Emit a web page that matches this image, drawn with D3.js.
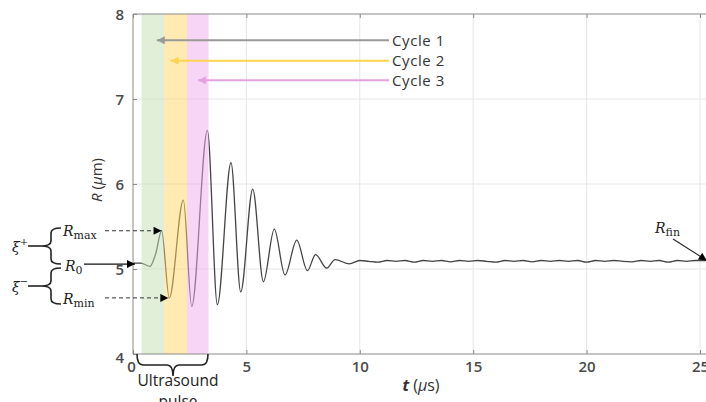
<!DOCTYPE html>
<html>
<head>
<meta charset="utf-8">
<script src="https://cdn.jsdelivr.net/npm/d3@7"></script>
<style>
  html, body { margin: 0; padding: 0; background: #fff; }
  svg { display: block; }
</style>
</head>
<body>
<svg id="chart" width="706" height="402"></svg>
<script>
// ---------------- data ----------------
const timeUs = [0, 0.35, 0.75, 1.0, 1.26, 1.6, 2.22, 2.59, 3.28, 3.72, 4.32, 4.75, 5.28, 5.75, 6.23, 6.70, 7.22, 7.69, 8.05, 8.54, 8.91, 9.54,
  10.0, 10.4, 10.8, 11.2, 11.6, 12.0, 12.4, 12.8, 13.2, 13.6, 14.0, 14.4, 14.8, 15.2, 15.6, 16.0, 16.4, 16.8, 17.2, 17.6, 18.0, 18.4, 18.8,
  19.2, 19.6, 20.0, 20.4, 20.8, 21.2, 21.6, 22.0, 22.4, 22.8, 23.2, 23.6, 24.0, 24.4, 24.8, 25.2, 25.5];
const radiusUm = [5.07, 5.07, 5.03, 5.18, 5.45, 4.66, 5.81, 4.56, 6.63, 4.58, 6.25, 4.73, 5.94, 4.85, 5.47, 4.93, 5.34, 4.98, 5.17, 5.01, 5.11, 5.06,
  5.10, 5.09, 5.08, 5.10, 5.09, 5.10, 5.08, 5.10, 5.09, 5.10, 5.085, 5.10, 5.09, 5.10, 5.09, 5.08, 5.10, 5.09, 5.10, 5.085, 5.10, 5.09, 5.10,
  5.09, 5.10, 5.08, 5.10, 5.09, 5.10, 5.09, 5.085, 5.10, 5.09, 5.10, 5.08, 5.10, 5.09, 5.10, 5.10, 5.10];

const cycleNames = ["Cycle 1", "Cycle 2", "Cycle 3"];
const cycleStart = [0.38, 1.38, 2.38];
const cycleEnd = [1.38, 2.38, 3.33];
const cycleArrowTip = [1.05, 1.66, 2.87]; // t where each label arrow ends
const cycleArrowR = [7.69, 7.45, 7.22];

const xTicks = [0, 5, 10, 15, 20, 25];
const yTicks = [4, 5, 6, 7, 8];

const R0 = 5.07, Rmax = 5.45, Rmin = 4.66, Rfin = 5.10;
const tRmax = 1.26, tRmin = 1.6, tFin = 25.3;

// ---------------- layout ----------------
const svg = d3.select("#chart");
const L = 133, T = 14, B = 354;
const x = d3.scaleLinear().domain([0, 25]).range([L, 700]);
const y = d3.scaleLinear().domain([4, 8]).range([B, T]);
const W = 706;

const bandFill = ["rgb(196,224,178)", "rgb(255,213,100)", "rgb(238,172,238)"];
const arrowCol = ["#9a9a9a", "#ffd34e", "#e2a2e0"];

// grid
const g = svg.append("g");
g.selectAll("line.vg").data(xTicks.filter(d => d > 0)).join("line")
  .attr("x1", d => x(d)).attr("x2", d => x(d)).attr("y1", T).attr("y2", B)
  .attr("stroke", "#e6e6e6").attr("stroke-width", 1);
g.selectAll("line.hg").data(yTicks.filter(d => d > 4 && d < 8)).join("line")
  .attr("x1", L).attr("x2", W).attr("y1", d => y(d)).attr("y2", d => y(d))
  .attr("stroke", "#e6e6e6").attr("stroke-width", 1);

// signal line
const line = d3.line().x((d, i) => x(timeUs[i])).y(d => y(d)).curve(d3.curveMonotoneX);
svg.append("path").attr("d", line(radiusUm))
  .attr("fill", "none").attr("stroke", "#444").attr("stroke-width", 1.3);

// colored bands (over line, translucent)
svg.selectAll("rect.band").data(cycleStart).join("rect")
  .attr("x", (d) => x(d)).attr("width", (d, i) => x(cycleEnd[i]) - x(d))
  .attr("y", T).attr("height", B - T)
  .attr("fill", (d, i) => bandFill[i]).attr("opacity", 0.5);

// axes
const axisCol = "#8a8a8a";
svg.append("line").attr("x1", L).attr("x2", L).attr("y1", T).attr("y2", B).attr("stroke", axisCol);
svg.append("line").attr("x1", L).attr("x2", W).attr("y1", B).attr("y2", B).attr("stroke", axisCol);
svg.append("line").attr("x1", L).attr("x2", W).attr("y1", T).attr("y2", T).attr("stroke", axisCol);

const xAxis = d3.axisBottom(x).tickValues(xTicks).tickSize(-4).tickPadding(10).tickFormat(d3.format("d"));
const xa = svg.append("g").attr("transform", `translate(0,${B})`).call(xAxis);
xa.select(".domain").remove();
const xaTop = svg.append("g").attr("transform", `translate(0,${T})`).call(d3.axisTop(x).tickValues(xTicks).tickSize(-4).tickFormat(""));
xaTop.select(".domain").remove();
const yAxis = d3.axisLeft(y).tickValues(yTicks).tickSize(-4).tickPadding(9).tickFormat(d3.format("d"));
const ya = svg.append("g").attr("transform", `translate(${L},0)`).call(yAxis);
ya.select(".domain").remove();
svg.selectAll(".tick line").attr("stroke", axisCol);
svg.selectAll(".tick text").attr("fill", "#4a4a4a").style("font-family", "'Open Sans', sans-serif").style("font-size", "15px").style("font-weight", "600");
xa.selectAll(".tick text").attr("dy", "0.55em").attr("dx", d => d === 0 ? -2 : 0);
ya.selectAll(".tick text").attr("dy", d => d === 4 ? "0.55em" : "0.35em");

// axis labels
const lab = svg.append("text").attr("transform", "translate(102,180) rotate(-90)")
  .attr("text-anchor", "middle").attr("fill", "#333")
  .style("font-family", "'Open Sans', sans-serif").style("font-size", "15px");
lab.append("tspan").text("R").style("font-style", "italic");
lab.append("tspan").text(" (");
lab.append("tspan").text("μ").style("font-style", "italic");
lab.append("tspan").text("m)");
const xl = svg.append("text").attr("x", 421).attr("y", 391).attr("text-anchor", "middle").attr("fill", "#333")
  .style("font-family", "'Open Sans', sans-serif").style("font-size", "16px");
xl.append("tspan").text("t").style("font-style", "italic").style("font-weight", "bold");
xl.append("tspan").text(" (");
xl.append("tspan").text("μ").style("font-style", "italic");
xl.append("tspan").text("s)");

// arrow markers
const defs = svg.append("defs");
function marker(id, col, w, h) {
  defs.append("marker").attr("id", id).attr("viewBox", "0 0 10 10").attr("refX", 10).attr("refY", 5)
    .attr("markerWidth", w).attr("markerHeight", h).attr("markerUnits", "userSpaceOnUse").attr("orient", "auto")
    .append("path").attr("d", "M0,0 L10,5 L0,10 Z").attr("fill", col);
}
arrowCol.forEach((c, i) => marker("m" + i, c, 11, 8));
marker("mk", "#000", 11, 8);

// cycle arrows + labels
cycleNames.forEach((name, i) => {
  const yy = y(cycleArrowR[i]);
  svg.append("line").attr("x1", 389).attr("x2", x(cycleArrowTip[i])).attr("y1", yy).attr("y2", yy)
    .attr("stroke", arrowCol[i]).attr("stroke-width", 2).attr("marker-end", `url(#m${i})`);
  svg.append("text").attr("x", 392).attr("y", yy).attr("dy", "0.35em").text(name)
    .attr("fill", "#333").style("font-family", "'Open Sans', sans-serif").style("font-size", "15px")
    .style("letter-spacing", "0.6px");
});

// left annotations
const serif = "'DejaVu Serif', 'Liberation Serif', serif";
function rLabel(xp, yp, sub) {
  const t = svg.append("text").attr("x", xp).attr("y", yp).attr("fill", "#222").style("font-family", serif);
  t.append("tspan").text("R").style("font-style", "italic").style("font-size", "14px");
  t.append("tspan").text(sub).attr("dy", 3).style("font-size", "11px");
}
rLabel(63, y(Rmax) + 5, "max");
rLabel(65, y(R0) + 8, "0");
rLabel(63, y(Rmin) + 6, "min");

svg.append("line").attr("x1", 105).attr("x2", x(tRmax)).attr("y1", y(Rmax)).attr("y2", y(Rmax))
  .attr("stroke", "#333").attr("stroke-dasharray", "4,3").attr("marker-end", "url(#mk)");
svg.append("line").attr("x1", 105).attr("x2", x(tRmin) - 1).attr("y1", y(Rmin)).attr("y2", y(Rmin))
  .attr("stroke", "#333").attr("stroke-dasharray", "4,3").attr("marker-end", "url(#mk)");
svg.append("line").attr("x1", 84).attr("x2", L + 2).attr("y1", y(R0) + 1).attr("y2", y(R0) + 1)
  .attr("stroke", "#111").attr("stroke-width", 1.2).attr("marker-end", "url(#mk)");

// braces
function vBrace(xr, y0, y1, w) {
  const ym = (y0 + y1) / 2, xm = xr - w / 2, xl = xr - w, r = 5;
  return `M${xr},${y0} Q${xm},${y0} ${xm},${y0 + r} L${xm},${ym - r} Q${xm},${ym} ${xl},${ym} Q${xm},${ym} ${xm},${ym + r} L${xm},${y1 - r} Q${xm},${y1} ${xr},${y1}`;
}
function hBrace(x0, x1, yt, h, xm) {
  const ym = yt + h / 2, yb = yt + h, r = 6;
  return `M${x0},${yt} Q${x0},${ym} ${x0 + r},${ym} L${xm - r},${ym} Q${xm},${ym} ${xm},${yb} Q${xm},${ym} ${xm + r},${ym} L${x1 - r},${ym} Q${x1},${ym} ${x1},${yt}`;
}
svg.append("path").attr("d", vBrace(61, 228, 264, 20)).attr("fill", "none").attr("stroke", "#222").attr("stroke-width", 1.6);
svg.append("path").attr("d", vBrace(61, 268, 304, 20)).attr("fill", "none").attr("stroke", "#222").attr("stroke-width", 1.6);
svg.append("line").attr("x1", 28).attr("x2", 41).attr("y1", 246).attr("y2", 246).attr("stroke", "#222").attr("stroke-width", 1.6);
svg.append("line").attr("x1", 28).attr("x2", 41).attr("y1", 286).attr("y2", 286).attr("stroke", "#222").attr("stroke-width", 1.6);
function xiLabel(yp, sup) {
  const t = svg.append("text").attr("x", 12).attr("y", yp).attr("fill", "#222").style("font-family", serif);
  t.append("tspan").text("ξ").style("font-style", "italic").style("font-size", "14px");
  t.append("tspan").text(sup).attr("dy", -7).style("font-size", "10px");
}
xiLabel(252, "+");
xiLabel(292, "−");

svg.append("path").attr("d", hBrace(137, 208, 354, 22, 173)).attr("fill", "none").attr("stroke", "#222").attr("stroke-width", 1.6);
svg.append("text").attr("x", 178).attr("y", 386).attr("text-anchor", "middle").text("Ultrasound")
  .attr("fill", "#222").style("font-family", "'Open Sans', sans-serif").style("font-size", "15.5px");
svg.append("text").attr("x", 178).attr("y", 407).attr("text-anchor", "middle").text("pulse")
  .attr("fill", "#222").style("font-family", "'Open Sans', sans-serif").style("font-size", "15.5px");

// R_fin
rLabel(655, 233, "fin");
svg.append("line").attr("x1", 673).attr("x2", x(tFin)).attr("y1", 239).attr("y2", y(Rfin))
  .attr("stroke", "#222").attr("stroke-width", 1.1).attr("marker-end", "url(#mk)");
</script>
</body>
</html>
